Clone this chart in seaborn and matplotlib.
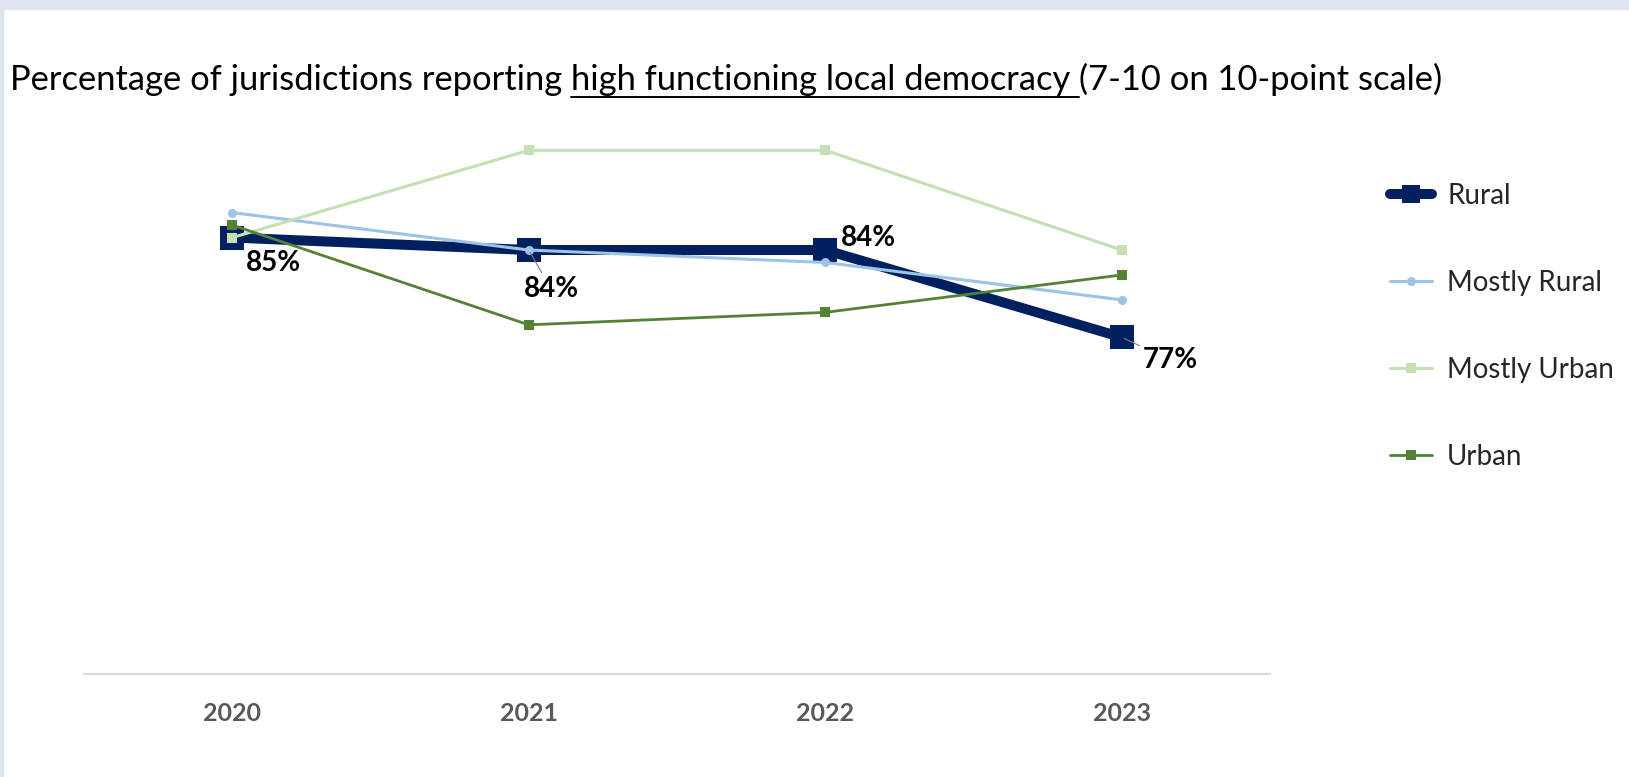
import matplotlib
matplotlib.use("Agg")
import matplotlib.pyplot as plt
import seaborn as sns
import pandas as pd
from matplotlib.patches import Rectangle
from matplotlib.lines import Line2D

# data
years = [2020, 2021, 2022, 2023]
rural = [85, 84, 84, 77]
mostly_rural = [87, 84, 83, 80]
mostly_urban = [85, 92, 92, 84]
urban = [86, 78, 79, 82]
series_names = ["Rural", "Mostly Rural", "Mostly Urban", "Urban"]
rural_labels = ["85%", "84%", "84%", "77%"]

colors = {"Rural": "#002060", "Mostly Rural": "#9DC3E6",
          "Mostly Urban": "#C5E0B4", "Urban": "#548235"}

sns.set_theme(style="white")
plt.rcParams['font.family'] = ['Lato', 'DejaVu Sans']

fig = plt.figure(figsize=(16.29, 7.77), dpi=100)
# light frame like the screenshot
fig.patches.append(Rectangle((0, 0.988), 1, 0.012, transform=fig.transFigure,
                             color="#dde5f0", zorder=0))
fig.patches.append(Rectangle((0, 0), 0.002, 1, transform=fig.transFigure,
                             color="#dde5f0", zorder=0))

ax = fig.add_axes([0.0516, 0.1326, 0.728, 0.8024])

df = pd.DataFrame({"year": years * 4,
                   "value": rural + mostly_rural + mostly_urban + urban,
                   "series": sum([[s] * 4 for s in series_names], [])})

styles = {
    "Rural": dict(marker="s", lw=7.2, ms=17.5),
    "Mostly Rural": dict(marker="o", lw=2.2, ms=6.5),
    "Mostly Urban": dict(marker="s", lw=2.2, ms=7),
    "Urban": dict(marker="s", lw=2.0, ms=7),
}
# Excel order: Rural drawn first, the others on top
for name in series_names:
    d = df[df["series"] == name]
    st = styles[name]
    sns.lineplot(data=d, x="year", y="value", ax=ax, color=colors[name],
                 marker=st["marker"], markersize=st["ms"], linewidth=st["lw"],
                 markeredgewidth=0, legend=False)

ax.set_xlim(2019.5, 2023.5)
ax.set_ylim(50, 100)
ax.set_xticks(years)
ax.set_xticklabels([str(y) for y in years], fontsize=18, fontweight="bold",
                   color="#595959")
ax.tick_params(axis="x", length=0, pad=20)
ax.set_yticks([])
ax.set_xlabel("")
ax.set_ylabel("")
for side in ["top", "left", "right"]:
    ax.spines[side].set_visible(False)
ax.spines["bottom"].set_color("#d9d9d9")
ax.spines["bottom"].set_linewidth(1.5)

# data labels on the Rural series
offsets = [(29.5, -18), (16, -28), (31, 9), (35, -16.5)]
leader = [False, True, False, True]
for yr, v, lab, off, ld in zip(years, rural, rural_labels, offsets, leader):
    ax.annotate(lab, (yr, v), xytext=off, textcoords="offset points",
                fontsize=20, fontweight="bold", color="black",
                ha="center", va="center", zorder=6,
                arrowprops=dict(arrowstyle="-", color="#7f7f7f", lw=0.8,
                                shrinkA=0, shrinkB=2) if ld else None)

# legend
handles = [Line2D([], [], color=colors[n], marker=styles[n]["marker"],
                  lw=styles[n]["lw"], ms=styles[n]["ms"] * (0.7 if n == "Rural" else 1),
                  markeredgewidth=0) for n in series_names]
fig.legend(handles, series_names, loc="upper left", bbox_to_anchor=(0.838, 0.797),
           frameon=False, fontsize=20, labelspacing=2.2, handlelength=1.5,
           handletextpad=0.55)

# title with underlined middle part
parts = ["Percentage of jurisdictions reporting ",
         "high functioning local democracy ",
         "(7-10 on 10-point scale)"]
fig.canvas.draw()
renderer = fig.canvas.get_renderer()
x = 10 / 1629
ty = 1 - 90 / 777
for i, p in enumerate(parts):
    t = fig.text(x, ty, p, fontsize=24.8, color="black", ha="left", va="baseline")
    bb = t.get_window_extent(renderer).transformed(fig.transFigure.inverted())
    if i == 1:
        fig.add_artist(Line2D([bb.x0, bb.x1], [ty - 0.009, ty - 0.009],
                              transform=fig.transFigure, color="black", lw=1.4))
    x = bb.x1

fig.savefig("out.png", dpi=100, facecolor="white")
